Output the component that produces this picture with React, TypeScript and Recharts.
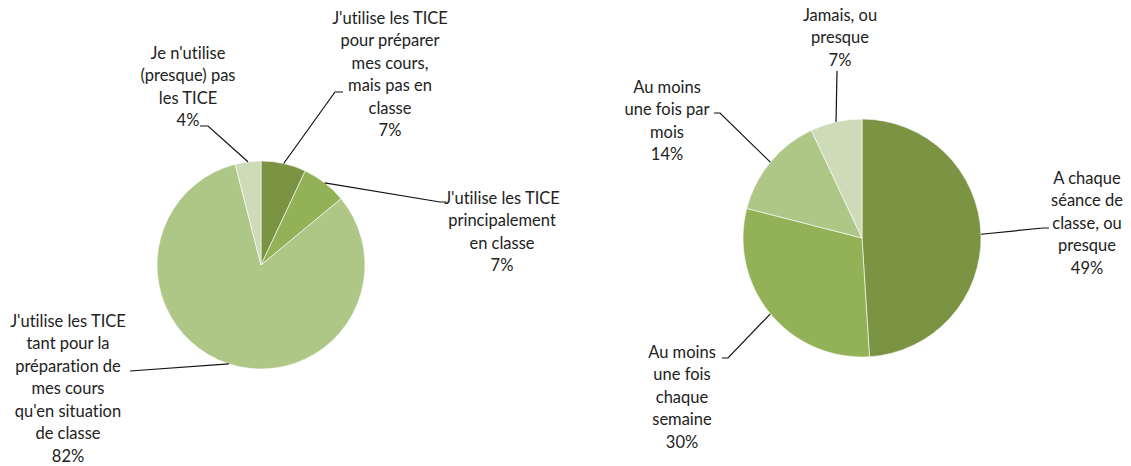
import React from "react";
import { PieChart, Pie, Cell } from "recharts";

// left pie: usage of TICE
const usageNames = [
  "J'utilise les TICE\npour préparer\nmes cours,\nmais pas en\nclasse",
  "J'utilise les TICE\nprincipalement\nen classe",
  "J'utilise les TICE\ntant pour la\npréparation de\nmes cours\nqu'en situation\nde classe",
  "Je n'utilise\n(presque) pas\nles TICE",
];
const usageValues = [7, 7, 82, 4];

// right pie: frequency
const freqNames = [
  "A chaque\nséance de\nclasse, ou\npresque",
  "Au moins\nune fois\nchaque\nsemaine",
  "Au moins\nune fois par\nmois",
  "Jamais, ou\npresque",
];
const freqValues = [49, 30, 14, 7];

const greens = ["#7A9443", "#93B157", "#AEC686", "#CDDBB8"];

type LabelLayout = { x: number; y: number; leader: number[][] };

const usageLayout: LabelLayout[] = [
  { x: 390, y: 18, leader: [[335, 92], [343, 92]] },
  { x: 502, y: 198, leader: [[440, 202], [446, 202]] },
  { x: 68, y: 321, leader: [[130, 371]] },
  { x: 188, y: 53, leader: [[208, 126], [200, 126]] },
];

const freqLayout: LabelLayout[] = [
  { x: 1087, y: 178, leader: [[1043, 228], [1049, 228]] },
  { x: 682, y: 352, leader: [[728, 358], [722, 358]] },
  { x: 667, y: 87, leader: [[720, 113], [714, 113]] },
  { x: 840, y: 15, leader: [[837, 71]] },
];

const LINE_H = 22.5;
const RAD = Math.PI / 180;

const makeLabel = (names: string[], values: number[], layout: LabelLayout[]) =>
  (props: any) => {
    const { cx, cy, midAngle, outerRadius, index } = props;
    const sx = cx + outerRadius * Math.cos(-midAngle * RAD);
    const sy = cy + outerRadius * Math.sin(-midAngle * RAD);
    const l = layout[index];
    const pts = [[sx, sy], ...l.leader].map((p) => p.join(",")).join(" ");
    const lines = [...names[index].split("\n"), `${values[index]}%`];
    return (
      <g key={`lbl-${index}`}>
        <polyline points={pts} fill="none" stroke="#111" strokeWidth={1.2} />
        <text
          x={l.x}
          y={l.y}
          textAnchor="middle"
          fill="#222"
          fontSize={16.5}
          fontFamily="Lato, 'Open Sans', sans-serif"
          style={{ fontVariantLigatures: "none" }}
        >
          {lines.map((t, i) => (
            <tspan key={i} x={l.x} dy={i === 0 ? "0.36em" : LINE_H}>
              {t}
            </tspan>
          ))}
        </text>
      </g>
    );
  };

const usageData = usageNames.map((name, i) => ({ name, value: usageValues[i] }));
const freqData = freqNames.map((name, i) => ({ name, value: freqValues[i] }));

export default function App() {
  return (
    <div style={{ position: "absolute", left: 0, top: 0, background: "#fff" }}>
      <PieChart width={1131} height={466} margin={{ top: 0, right: 0, bottom: 0, left: 0 }}>
        <Pie
          data={usageData}
          dataKey="value"
          nameKey="name"
          cx={261}
          cy={265}
          outerRadius={104}
          startAngle={90}
          endAngle={-270}
          stroke="#ffffff"
          strokeWidth={0.6}
          labelLine={false}
          label={makeLabel(usageNames, usageValues, usageLayout)}
          isAnimationActive={false}
        >
          {usageData.map((_, i) => (
            <Cell key={i} fill={greens[i]} />
          ))}
        </Pie>
        <Pie
          data={freqData}
          dataKey="value"
          nameKey="name"
          cx={862}
          cy={238}
          outerRadius={119}
          startAngle={90}
          endAngle={-270}
          stroke="#ffffff"
          strokeWidth={0.6}
          labelLine={false}
          label={makeLabel(freqNames, freqValues, freqLayout)}
          isAnimationActive={false}
        >
          {freqData.map((_, i) => (
            <Cell key={i} fill={greens[i]} />
          ))}
        </Pie>
      </PieChart>
    </div>
  );
}
